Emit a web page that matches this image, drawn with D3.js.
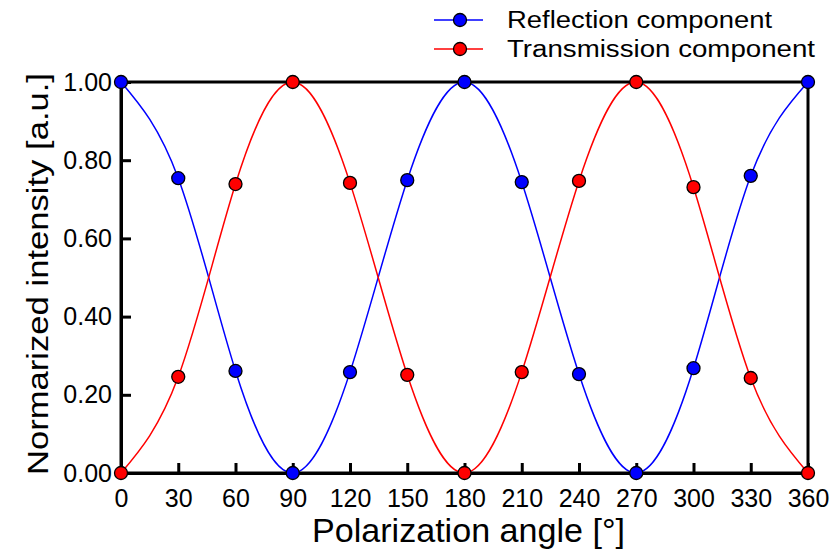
<!DOCTYPE html>
<html lang="en">
<head>
  <meta charset="UTF-8">
  <title>Polarization</title>
  <style>
    body { margin: 0; background: #fff; }
    svg { font-family: "Liberation Sans", Arial, sans-serif; }
  </style>
</head>
<body>
  <svg></svg>
  <script src="https://cdn.jsdelivr.net/npm/d3@7"></script>
  <script>
    const angles = [0, 30, 60, 90, 120, 150, 180, 210, 240, 270, 300, 330, 360]
    const reflection = [1.00, 0.754, 0.261, 0.00, 0.258, 0.749, 1.00, 0.744, 0.253, 0.00, 0.268, 0.760, 1.00]
    const transmission = [0.00, 0.246, 0.739, 1.00, 0.742, 0.251, 0.00, 0.258, 0.747, 1.00, 0.731, 0.243, 0.00]
    const xTicks = [0, 30, 60, 90, 120, 150, 180, 210, 240, 270, 300, 330, 360]
    const yTicks = [0, 0.2, 0.4, 0.6, 0.8, 1.0]

    const series = [
      {name: "Reflection component", values: reflection, color: "#0000ff", len: 265},
      {name: "Transmission component", values: transmission, color: "#ff0000", len: 308}
    ]

    var width = 832
    var height = 554
    var svg = d3.select("svg").attr("width", width).attr("height", height)

    var x = d3.scaleLinear().domain([0, 360]).range([121, 808])
    var y = d3.scaleLinear().domain([0, 1]).range([473, 82])

    // curves
    var line = d3.line()
      .x((d, i) => x(angles[i]))
      .y(d => y(d))
      .curve(d3.curveNatural)

    svg.selectAll("path.curve")
      .data(series)
      .join("path")
      .attr("class", "curve")
      .attr("d", d => line(d.values))
      .attr("fill", "none")
      .attr("stroke", d => d.color)
      .attr("stroke-width", 1.5)

    // frame
    svg.append("rect")
      .attr("x", x(0)).attr("y", y(1))
      .attr("width", x(360) - x(0)).attr("height", y(0) - y(1))
      .attr("fill", "none").attr("stroke", "#000").attr("stroke-width", 3)

    // axes, ticks inward
    var xAxis = svg.append("g")
      .attr("transform", `translate(0, ${y(0)})`)
      .call(d3.axisBottom(x).tickValues(xTicks).tickSizeInner(-10).tickSizeOuter(0))
    var yAxis = svg.append("g")
      .attr("transform", `translate(${x(0)}, 0)`)
      .call(d3.axisLeft(y).tickValues(yTicks).tickFormat(d3.format(".2f")).tickSizeInner(-10).tickSizeOuter(0))

    ;[xAxis, yAxis].forEach(g => {
      g.select(".domain").attr("stroke-width", 3)
      g.selectAll(".tick line").attr("stroke-width", 3)
      g.selectAll(".tick text").attr("font-size", 25).attr("fill", "#000")
        .attr("font-family", "Liberation Sans, Arial, sans-serif")
    })
    xAxis.selectAll(".tick text").attr("dy", null).attr("y", 34)
    yAxis.selectAll(".tick text").attr("x", -9)

    // markers
    series.forEach(s => {
      svg.append("g").selectAll("circle")
        .data(s.values)
        .join("circle")
        .attr("cx", (d, i) => x(angles[i]))
        .attr("cy", d => y(d))
        .attr("r", 6.5)
        .attr("fill", s.color)
        .attr("stroke", "#000")
        .attr("stroke-width", 1.3)
    })

    // axis titles
    svg.append("text")
      .attr("x", 468.5).attr("y", 542)
      .attr("text-anchor", "middle").attr("font-size", 33)
      .attr("textLength", 313).attr("lengthAdjust", "spacingAndGlyphs")
      .text("Polarization angle [°]")
    svg.append("text")
      .attr("transform", `translate(48, 274) rotate(-90)`)
      .attr("text-anchor", "middle").attr("font-size", 30)
      .attr("textLength", 402).attr("lengthAdjust", "spacingAndGlyphs")
      .text("Normarized intensity [a.u.]")

    // legend
    var legend = svg.append("g")
    series.forEach((s, i) => {
      var ly = 20 + i * 29
      legend.append("line")
        .attr("x1", 434).attr("x2", 483).attr("y1", ly).attr("y2", ly)
        .attr("stroke", s.color).attr("stroke-width", 1.5)
      legend.append("circle")
        .attr("cx", 460).attr("cy", ly).attr("r", 6.5)
        .attr("fill", s.color).attr("stroke", "#000").attr("stroke-width", 1.3)
      legend.append("text")
        .attr("x", 507).attr("y", ly + 8)
        .attr("font-size", 23)
        .attr("textLength", s.len).attr("lengthAdjust", "spacingAndGlyphs")
        .text(s.name)
    })
  </script>
</body>
</html>
